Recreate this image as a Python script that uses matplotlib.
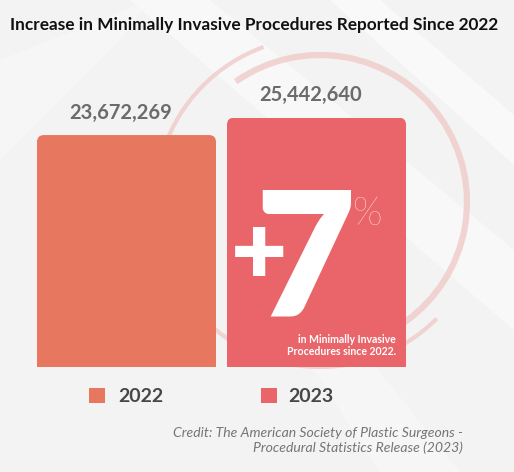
import matplotlib
matplotlib.use("Agg")
import matplotlib.pyplot as plt
from matplotlib.patches import FancyBboxPatch, Arc, Polygon, Rectangle

# ---- data ----
years = ["2022", "2023"]
values = [23672269, 25442640]
value_labels = ["23,672,269", "25,442,640"]
colors = ["#E8775F", "#E9656A"]
title = "Increase in Minimally Invasive Procedures Reported Since 2022"
big_sign = "+"
big_number = "7"
big_pct = "%"
note = "in Minimally Invasive\nProcedures since 2022."
credit = "Credit: The American Society of Plastic Surgeons -\nProcedural Statistics Release (2023)"

W, H = 514, 472
fig = plt.figure(figsize=(W / 100, H / 100), dpi=100)
fig.patch.set_facecolor("#F3F3F3")
FONT = "Lato"

def fx(x):
    return x / W

def fy(y):
    return 1 - y / H

# ---- background decorations (pixel axes) ----
bg = fig.add_axes([0, 0, 1, 1], zorder=0)
bg.set_xlim(0, W)
bg.set_ylim(0, H)
bg.axis("off")
bg.patch.set_alpha(0)
for pts, a in [
    ([(130, H), (210, H), (514, H - 250), (514, H - 330)], 0.45),
    ([(330, H), (380, H), (514, H - 115), (514, H - 165)], 0.55),
    ([(0, H - 60), (0, H - 160), (120, H - 40), (150, H - 0)], 0.25),
    ([(380, 0), (460, 0), (300, 200), (250, 200)], 0.25),
]:
    bg.add_patch(Polygon(pts, closed=True, facecolor="white", edgecolor="none", alpha=a))
cx, cy = 320, H - 202
bg.add_patch(Arc((cx, cy), 2 * 147, 2 * 147, theta1=-55, theta2=125,
                 color="#EFC6C3", lw=4.5, alpha=0.7))
bg.add_patch(Arc((cx, cy), 2 * 165, 2 * 165, theta1=110, theta2=315,
                 color="#EFC6C3", lw=3.0, alpha=0.7))

# ---- bars ----
left_px, right_px = 37, 406
base_px, top_px = 367, 100
ax = fig.add_axes([fx(left_px), fy(base_px), (right_px - left_px) / W, (base_px - top_px) / H], zorder=1)
ax.patch.set_alpha(0)
xlim = (-0.471, 1.471)
ylim = (0, 27.25e6)
ax.set_xlim(*xlim)
ax.set_ylim(*ylim)
ax.axis("off")
bar_w = 0.942
xs = list(range(len(values)))
bars = ax.bar(xs, values, width=bar_w, color=colors, edgecolor="none")

x_per_px = (xlim[1] - xlim[0]) / (right_px - left_px)
y_per_px = (ylim[1] - ylim[0]) / (base_px - top_px)
rad_px = 7
for b in bars:
    clip = FancyBboxPatch((b.get_x(), -ylim[1]), b.get_width(), b.get_height() + ylim[1],
                          boxstyle=f"round,pad=0,rounding_size={rad_px * x_per_px}",
                          mutation_aspect=y_per_px / x_per_px,
                          transform=ax.transData, facecolor="none", edgecolor="none")
    ax.add_patch(clip)
    clip.set_visible(False)
    b.set_clip_path(clip)

for x, v, lab in zip(xs, values, value_labels):
    ax.annotate(lab, (x, v), xytext=(-4, 9), textcoords="offset points",
                ha="center", va="bottom", fontsize=14.5, fontweight="bold",
                color="#6B6B6B", family=FONT)

# ---- big +7% ----
fig.text(fx(259.5), fy(256), big_sign, ha="center", va="center", fontsize=70,
         fontweight="heavy", color="white", family=FONT, zorder=3)
fig.text(fx(305), fy(316), big_number, ha="center", va="baseline", fontsize=124,
         fontweight="heavy", color="white", family=FONT, zorder=3)
fig.text(fx(353), fy(225), big_pct, ha="left", va="baseline", fontsize=28,
         fontweight="light", color="white", family=FONT, zorder=3)
fig.text(fx(396), fy(355), note, ha="right", va="baseline", fontsize=7.6,
         fontweight="bold", color="white", family=FONT, linespacing=1.15, zorder=3)

# ---- title ----
fig.text(fx(254), fy(25), title, ha="center", va="center", fontsize=12.4,
         fontweight="bold", color="#111111", family=FONT)

# ---- legend ----
for (sx, tx), yr, c in zip([(89, 118), (261, 288)], years, colors):
    fig.patches.append(Rectangle((fx(sx), fy(403)), 16 / W, 15 / H, transform=fig.transFigure,
                                 facecolor=c, edgecolor="none", figure=fig))
    fig.text(fx(tx), fy(396), yr, ha="left", va="center", fontsize=14,
             fontweight="bold", color="#474747", family=FONT)

# ---- credit ----
fig.text(fx(463), fy(452), credit, ha="right", va="baseline", fontsize=10.1,
         style="italic", color="#757575", family=FONT, linespacing=1.2)

fig.savefig("out.png", dpi=100, facecolor=fig.get_facecolor())
